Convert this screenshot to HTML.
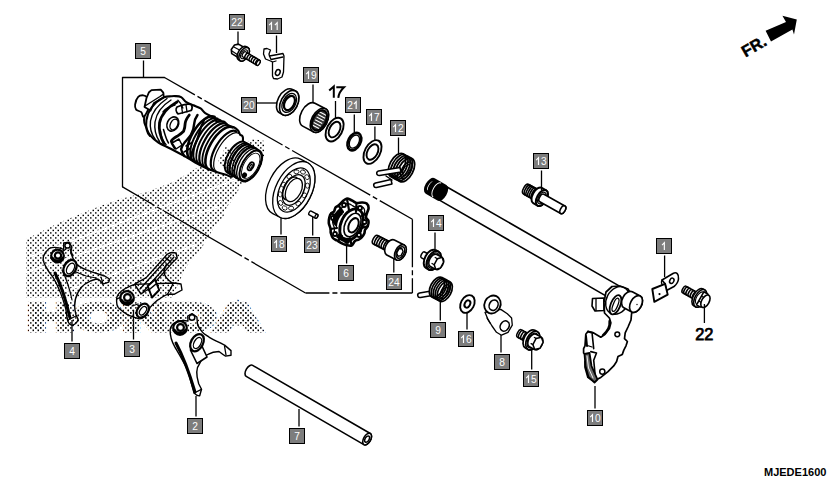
<!DOCTYPE html>
<html><head><meta charset="utf-8"><style>
html,body{margin:0;padding:0;background:#fff;width:834px;height:488px;overflow:hidden}
svg{display:block}
.lb{font-family:"Liberation Sans",sans-serif;font-size:10.2px;fill:#fff;text-anchor:middle}
.ld{stroke:#000;stroke-width:1.3}
.k{fill:none;stroke:#000;stroke-width:1.3;stroke-linejoin:round;stroke-linecap:round}
.kw{fill:#fff;stroke:#000;stroke-width:1.3;stroke-linejoin:round;stroke-linecap:round}
.kt{fill:none;stroke:#000;stroke-width:0.8;stroke-linejoin:round;stroke-linecap:round}
.kb{fill:#fff;stroke:#000;stroke-width:2;stroke-linejoin:round;stroke-linecap:round}
</style></head><body>
<svg width="834" height="488" viewBox="0 0 834 488">
<defs>
<pattern id="dots" width="5" height="5" patternUnits="userSpaceOnUse">
<rect x="0.05" y="2.2" width="1.45" height="1.45" fill="#000"/>
<rect x="2.55" y="-0.3" width="1.45" height="1.45" fill="#000"/>
<rect x="2.55" y="4.7" width="1.45" height="1.45" fill="#000"/>
</pattern>
<pattern id="dotsS" width="5" height="5" patternUnits="userSpaceOnUse">
<rect x="0" y="0" width="1" height="1" fill="#000"/>
<rect x="2.5" y="2.5" width="1" height="1" fill="#000"/>
</pattern>
</defs>
<g id="wm">
<path fill="url(#dots)" d="M26,239.2 L60.6,222 L100,206 L119.6,199.2 L147,192 L174,181.4 L195.5,168.8 L212,158 L237,148 L252,139 L265,141 L264,158 L252,180 L241.6,184 L235.5,195.8 L226.9,206.9 L223.2,216.7 L214.6,226.6 L201,249 L186,267 L172,297.5 L26,297.5 Z"/>
<line x1="30" y1="256.7" x2="245" y2="176" stroke="#fff" stroke-width="1.6"/>
<line x1="26" y1="272.5" x2="218" y2="207" stroke="#fff" stroke-width="1.6"/>
<line x1="60" y1="293" x2="195" y2="245" stroke="#fff" stroke-width="1.6"/>
<text x="28" y="330.3" textLength="233" lengthAdjust="spacingAndGlyphs" style="font-family:'Liberation Sans',sans-serif;font-weight:bold;font-size:36px;stroke:url(#dots);stroke-width:5;stroke-linejoin:miter" fill="url(#dots)">HONDA</text>
</g>
<path class="k" d="M122.5,186.9 L122.5,77.5 L164.5,77.5"/>
<path class="k" d="M164.5,77.5 L412.4,219.3" stroke-dasharray="90 3 5 3" stroke-dashoffset="55" style="stroke-linecap:butt"/>
<path class="k" d="M122.5,186.9 L305.5,293" stroke-dasharray="90 3 5 3" stroke-dashoffset="53" style="stroke-linecap:butt"/>
<path class="k" d="M412.4,219.3 L412.4,293" stroke-dasharray="90 3 5 3" stroke-dashoffset="42" style="stroke-linecap:butt"/>
<path class="k" d="M412.4,293 L305.5,293" stroke-dasharray="90 3 5 3" stroke-dashoffset="18" style="stroke-linecap:butt"/>
<path class="kw" style="stroke-width:2.1" d="M163.8,97.3 C167.0,96.5 169.1,96.5 171.0,96.3 C172.9,96.1 173.3,96.0 175.0,96.1 C176.7,96.2 179.2,96.1 181.1,97.1 C183.0,98.1 184.2,100.8 186.3,102.2 C188.4,103.6 191.0,104.3 193.4,105.3 C195.8,106.3 198.6,107.1 200.6,108.4 C202.6,109.7 202.9,111.5 205.2,113.1 C207.5,114.7 212.6,116.8 214.5,118.2 C216.4,119.6 215.0,120.8 216.5,121.3 C218.0,121.8 221.8,120.8 223.7,121.5 C225.6,122.2 226.1,124.5 227.8,125.5 C229.5,126.5 232.2,126.4 233.9,127.2 C235.6,128.0 237.0,129.3 238.0,130.5 C239.0,131.7 239.3,133.3 240.1,134.6 C240.9,135.9 243.0,134.3 243.0,138.5 C243.0,142.7 241.6,153.8 240.0,160.0 C238.4,166.2 235.5,173.4 233.2,175.9 C230.9,178.4 228.9,175.5 226.0,174.8 C223.1,174.1 219.1,173.0 215.7,171.8 C212.3,170.6 208.9,169.2 205.5,167.7 C202.1,166.1 198.6,164.4 195.2,162.5 C191.8,160.6 189.1,158.7 185.0,156.4 C180.9,154.1 175.1,151.0 170.7,148.7 C166.3,146.4 161.8,144.7 158.4,142.5 C155.0,140.3 152.3,138.0 150.2,135.4 C148.1,132.8 147.0,129.6 146.0,127.0 C145.0,124.4 144.1,123.2 144.1,120.0 C144.1,116.8 144.7,111.2 146.0,108.0 C147.3,104.8 149.0,102.8 152.0,101.0 C155.0,99.2 160.6,98.1 163.8,97.3 Z"/><path class="kw" style="stroke-width:1.8" d="M135.1,104.5 C135.4,102.4 136.8,98.3 138.2,96.8 C139.6,95.3 141.8,95.2 143.3,95.3 C144.8,95.4 145.9,95.8 147.0,97.3 C148.1,98.8 150.0,101.5 150.0,104.0 C150.0,106.5 148.1,109.9 147.0,112.0 C145.9,114.1 144.2,116.8 143.3,116.8 C142.4,116.8 142.5,113.4 141.3,112.2 C140.1,111.0 137.1,110.9 136.1,109.6 C135.1,108.3 134.8,106.6 135.1,104.5 Z"/><path class="kw" style="stroke-width:1.8" d="M146.5,98 L149,92.2 L151.5,90.1 L160.7,89.6 L163.3,92.7 L163.8,97.3 L154,103 L150.5,110.6 L144.5,107 Z"/><path class="k" d="M145,106 L160,96.5 L163.5,94" style="stroke-width:1.4"/><path class="k" style="stroke-width:2.0" d="M163.8,97.3 C155,102 148,110 146.5,120 C145.5,128 147,133 150,136"/><path class="k" style="stroke-width:1.4" d="M167,98.5 C159,104 152,112 150.5,121 C149.5,129 152,135 155,139"/><path class="k" style="stroke-width:1.4" d="M171,100 C163,105 156.5,113 155,122 C154,130 156.5,137 159.5,141.5"/><path class="k" style="stroke-width:2.8" d="M177,102 C168,107 161,115 159.5,123 C158.5,131 161,138 164,143.5"/><ellipse class="kw" cx="172.8" cy="124" rx="5.6" ry="7.4" transform="rotate(25 172.8 124)" style="stroke-width:1.6"/><ellipse class="k" cx="174" cy="124.5" rx="3.6" ry="5.6" transform="rotate(25 174 124.5)" style="stroke-width:1.4"/><path class="k" style="stroke-width:1.5" d="M160.5,131 C161,137 163,142 166,144.5 M163.5,129.5 C165,135 166.5,140 168.5,143"/><path class="kw" style="stroke-width:1.8" d="M177,107 C183,104.5 188,103.5 191,104.5 C192.5,106 192.5,109 191,110.5 C186,112 181,113.5 178,113.8 C176,112 175.5,109 177,107 Z"/><path class="k" d="M181.5,106 L182.5,113 M186,104.8 L187,111.8" style="stroke-width:1.3"/><path class="k" style="stroke-width:2.8" d="M189.3,115 C187,118 185.5,120 185.2,123.1 C185,127 184.5,129 183.6,131.3 C181,134 179,135 177,136.3 C174,138 172,139.5 171.3,141.2 C172,144 174,146 175,148"/><path class="k" style="stroke-width:2.4" d="M197.5,115 C195.5,118 194.5,120 194.3,123.1 C194,127 193,131 191,134.6 C189,138 186.5,140 184.4,142.8 C182.5,145 181.5,147 181.1,149.4 C181.5,152 183,154 184.4,156"/><path class="k" style="stroke-width:2.2" d="M204.1,119.9 C202,124 200.5,128 199.2,133 C198,138 196.5,142 194.3,146.1 C192.5,150 191.5,153 191,157.6"/><path class="k" style="stroke-width:1.4" d="M177.9,100.2 C181,103 182,106 182.8,108"/><path class="kw" style="stroke-width:1.5" d="M172,143 L179,139 L182,145 L176,149 Z"/><path class="k" style="stroke-width:1.5" d="M186,146 L192,142.5 M184,152 L190,148.5 M163,112 C166,108 170,106 175,105"/><g transform="translate(251,165.9) rotate(30)"><path class="k" d="M-56.00,-24.20 A10.89,24.20 0 0 0 -56.00,24.20" style="stroke-width:2.6"/><path class="k" d="M-52.50,-24.20 A10.89,24.20 0 0 0 -52.50,24.20" style="stroke-width:2.0"/><path class="k" d="M-49.00,-24.20 A10.89,24.20 0 0 0 -49.00,24.20" style="stroke-width:2.2"/><path class="k" d="M-45.50,-24.20 A10.89,24.20 0 0 0 -45.50,24.20" style="stroke-width:1.8"/><path class="k" d="M-42.00,-24.20 A10.89,24.20 0 0 0 -42.00,24.20" style="stroke-width:2.2"/><path class="k" d="M-38.50,-24.20 A10.89,24.20 0 0 0 -38.50,24.20" style="stroke-width:1.8"/><path class="k" d="M-35.00,-24.20 A10.89,24.20 0 0 0 -35.00,24.20" style="stroke-width:2.6"/><path class="k" d="M-30.00,-22.50 A10.12,22.50 0 0 0 -30.00,22.50" style="stroke-width:2.2"/><path class="k" d="M-27.00,-22.00 A9.90,22.00 0 0 0 -27.00,22.00" style="stroke-width:1.2"/><path class="kw" d="M-17.00,-17.50 L-0.50,-17.50 A8.75,17.50 0 0 1 -0.50,17.50 L-17.00,17.50 A8.75,17.50 0 0 1 -17.00,-17.50 Z" style="stroke-width:2"/><path class="k" d="M-14.00,-17.50 A8.75,17.50 0 0 0 -14.00,17.50" style="stroke-width:1.6"/><path class="k" d="M-11.50,-17.50 A8.75,17.50 0 0 0 -11.50,17.50" style="stroke-width:2.4"/><path class="k" d="M-8.50,-17.50 A8.75,17.50 0 0 0 -8.50,17.50" style="stroke-width:1.6"/><path class="k" d="M-6.00,-17.50 A8.75,17.50 0 0 0 -6.00,17.50" style="stroke-width:2.2"/><path class="k" d="M-3.20,-17.50 A8.75,17.50 0 0 0 -3.20,17.50" style="stroke-width:1.4"/><ellipse class="kw" cx="-0.50" cy="0.00" rx="8.40" ry="16.80" style="stroke-width:2"/><ellipse class="k" cx="-0.30" cy="0.00" rx="7.00" ry="14.00" style="stroke-width:0.9"/><ellipse class="kw" cx="0" cy="0.5" rx="2.4" ry="4.4" style="stroke-width:1.8"/><ellipse class="k" cx="0.2" cy="0.5" rx="1" ry="2.2" style="stroke-width:1.2"/><ellipse class="kb" cx="-1" cy="11.5" rx="1.5" ry="2" style="fill:#000"/></g><path fill="url(#dots)" d="M218,162 C222,166 228,170 234,173 L236,163 C234,156 230,150 226,146 Z"/>
<g transform="translate(293.8,190) rotate(27)"><path class="kw" d="M-8.00,-30.60 L0.00,-30.60 A17.90,30.60 0 0 1 0.00,30.60 L-8.00,30.60 A17.90,30.60 0 0 1 -8.00,-30.60 Z" /><ellipse class="kw" cx="0.00" cy="0" rx="17.90" ry="30.60" /><ellipse class="k" cx="0.00" cy="0.00" rx="13.92" ry="23.80" /><ellipse class="k" cx="0.00" cy="0.00" rx="9.65" ry="16.50" /><ellipse class="kw" cx="0.00" cy="0.00" rx="7.31" ry="12.50" /><path class="k" d="M-3,-12.5 A7.3,12.5 0 0 0 -3,12.5"/><ellipse class="kt" cx="11.82" cy="0.00" rx="2" ry="2.6" transform="rotate(0.0 11.82 0.00)"/><ellipse class="kt" cx="10.23" cy="10.10" rx="2" ry="2.6" transform="rotate(30.0 10.23 10.10)"/><ellipse class="kt" cx="5.91" cy="17.49" rx="2" ry="2.6" transform="rotate(60.0 5.91 17.49)"/><ellipse class="kt" cx="0.00" cy="20.20" rx="2" ry="2.6" transform="rotate(90.0 0.00 20.20)"/><ellipse class="kt" cx="-5.91" cy="17.49" rx="2" ry="2.6" transform="rotate(120.0 -5.91 17.49)"/><ellipse class="kt" cx="-10.23" cy="10.10" rx="2" ry="2.6" transform="rotate(150.0 -10.23 10.10)"/><ellipse class="kt" cx="-11.82" cy="0.00" rx="2" ry="2.6" transform="rotate(180.0 -11.82 0.00)"/><ellipse class="kt" cx="-10.23" cy="-10.10" rx="2" ry="2.6" transform="rotate(210.0 -10.23 -10.10)"/><ellipse class="kt" cx="-5.91" cy="-17.49" rx="2" ry="2.6" transform="rotate(240.0 -5.91 -17.49)"/><ellipse class="kt" cx="-0.00" cy="-20.20" rx="2" ry="2.6" transform="rotate(270.0 -0.00 -20.20)"/><ellipse class="kt" cx="5.91" cy="-17.49" rx="2" ry="2.6" transform="rotate(300.0 5.91 -17.49)"/><ellipse class="kt" cx="10.23" cy="-10.10" rx="2" ry="2.6" transform="rotate(330.0 10.23 -10.10)"/></g>
<g transform="translate(289.2,102.9) rotate(28)"><path class="kw" d="M-3.50,-13.40 L0.00,-13.40 A8.31,13.40 0 0 1 0.00,13.40 L-3.50,13.40 A8.31,13.40 0 0 1 -3.50,-13.40 Z" style="stroke-width:1.6"/><ellipse class="kw" cx="0.00" cy="0" rx="8.31" ry="13.40" style="stroke-width:1.6"/><ellipse class="k" cx="0.00" cy="0.00" rx="6.32" ry="10.20" style="stroke-width:1.3"/><ellipse class="kw" cx="0.30" cy="0.00" rx="4.71" ry="7.60" style="stroke-width:2.2"/><path class="k" d="M-1.2,-7 A4,7 0 0 0 -1.2,7" style="stroke-width:1.2"/></g>
<g transform="translate(319.4,120.3) rotate(28)"><path class="kw" d="M-12.00,-13.00 L0.00,-13.00 A7.80,13.00 0 0 1 0.00,13.00 L-12.00,13.00 A7.80,13.00 0 0 1 -12.00,-13.00 Z" style="stroke-width:1.6"/><ellipse class="kw" cx="0.00" cy="0" rx="7.80" ry="13.00" style="stroke-width:1.6"/><ellipse class="kw" cx="0.00" cy="0.00" rx="6.48" ry="10.80" style="fill:#333;stroke-width:1.6"/><line x1="-4" y1="-7.5" x2="4" y2="-7.5" stroke="#fff" stroke-width="1.1"/><line x1="-4" y1="-4.5" x2="4" y2="-4.5" stroke="#fff" stroke-width="1.1"/><line x1="-4" y1="-1.5" x2="4" y2="-1.5" stroke="#fff" stroke-width="1.1"/><line x1="-4" y1="1.5" x2="4" y2="1.5" stroke="#fff" stroke-width="1.1"/><line x1="-4" y1="4.5" x2="4" y2="4.5" stroke="#fff" stroke-width="1.1"/><line x1="-4" y1="7.5" x2="4" y2="7.5" stroke="#fff" stroke-width="1.1"/><ellipse class="k" cx="0.00" cy="0.00" rx="6.48" ry="10.80" style="stroke-width:1.8"/></g>
<g transform="translate(334.6,129.6) rotate(28)"><ellipse class="kw" cx="0.00" cy="0.00" rx="7.68" ry="12.80" style="stroke-width:1.9"/><ellipse class="kw" cx="0.00" cy="0.00" rx="5.04" ry="8.40" style="stroke-width:1.9"/></g>
<g transform="translate(354.4,141.6) rotate(28)"><ellipse class="k" cx="0.00" cy="0.00" rx="6.11" ry="9.40" style="stroke-width:2.6"/><ellipse class="k" cx="0.00" cy="0.00" rx="4.55" ry="7.00" style="stroke-width:1.4"/></g>
<g transform="translate(372.5,152) rotate(28)"><ellipse class="kw" cx="0.00" cy="0.00" rx="7.68" ry="12.80" style="stroke-width:1.9"/><ellipse class="kw" cx="0.00" cy="0.00" rx="5.04" ry="8.40" style="stroke-width:1.9"/></g>
<g transform="translate(405,169.5) rotate(28)"><ellipse class="kw" cx="-9.00" cy="0.00" rx="7.15" ry="13.00" style="stroke-width:1.8"/><ellipse class="k" cx="-6.50" cy="0.00" rx="7.15" ry="13.00" style="stroke-width:1.8"/><ellipse class="k" cx="-4.00" cy="0.00" rx="7.15" ry="13.00" style="stroke-width:1.8"/><ellipse class="k" cx="-1.50" cy="0.00" rx="7.15" ry="13.00" style="stroke-width:1.8"/><ellipse class="k" cx="1.00" cy="0.00" rx="7.15" ry="13.00" style="stroke-width:1.8"/><ellipse class="k" cx="1.50" cy="0.00" rx="4.50" ry="9.00" style="stroke-width:1.5"/><ellipse class="k" cx="1.50" cy="0.00" rx="3.00" ry="6.00" style="stroke-width:1.2"/></g><path class="kw" d="M378.5,171 L400,167.5 L401,172 L379.5,175.5 A2.3,2.3 0 0 1 378.5,171 Z" style="stroke-width:1.5"/><path class="kw" d="M375.5,183 L391,179.5 L392,184 L376.5,187.5 A2.3,2.3 0 0 1 375.5,183 Z" style="stroke-width:1.5"/><path class="k" d="M386,176 L392,180 M390,174 L396,178" style="stroke-width:1.4"/>
<g transform="translate(313.3,214.7) rotate(28)"><path class="kw" d="M-3.50,-2.10 L3.50,-2.10 A1.26,2.10 0 0 1 3.50,2.10 L-3.50,2.10 A1.26,2.10 0 0 1 -3.50,-2.10 Z" style="stroke-width:1.4"/><ellipse class="kw" cx="3.50" cy="0" rx="1.26" ry="2.10" style="stroke-width:1.4"/></g>
<path class="kw" style="stroke-width:2.6" d="M343.0,201.0 C344.4,199.8 345.5,198.6 347.0,198.5 C348.5,198.4 350.4,199.8 352.0,200.5 C353.6,201.2 354.8,202.7 356.5,203.0 C358.2,203.3 360.3,202.4 362.0,202.5 C363.7,202.6 365.6,202.6 366.7,203.5 C367.8,204.4 368.6,206.4 368.6,208.0 C368.7,209.6 367.4,211.4 367.0,213.0 C366.6,214.6 365.8,216.2 366.0,217.5 C366.2,218.8 368.2,219.6 368.5,221.0 C368.8,222.4 368.4,224.5 367.8,226.0 C367.2,227.5 365.6,228.8 365.0,230.0 C364.4,231.2 364.9,232.0 364.4,233.2 C363.9,234.4 362.9,235.9 362.0,237.0 C361.1,238.1 360.2,238.8 359.0,239.5 C357.8,240.2 356.2,240.0 355.0,241.0 C353.8,242.0 353.0,244.8 351.5,245.5 C350.0,246.2 347.6,245.3 346.0,245.0 C344.4,244.7 343.4,244.2 341.9,243.4 C340.4,242.7 338.5,241.4 337.0,240.5 C335.5,239.6 333.9,239.2 332.9,238.0 C331.9,236.8 331.2,234.5 330.8,233.0 C330.4,231.5 330.9,230.5 330.6,228.8 C330.3,227.1 329.0,224.9 328.8,223.0 C328.6,221.1 328.9,219.1 329.3,217.5 C329.7,215.9 330.2,214.5 331.0,213.5 C331.8,212.5 333.2,212.5 334.0,211.5 C334.8,210.5 334.8,208.5 335.5,207.5 C336.2,206.5 337.2,206.6 338.5,205.5 C339.8,204.4 341.6,202.2 343.0,201.0 Z"/><path class="k" style="stroke-width:1.3" d="M344.2,205.4 C345.3,204.5 346.2,203.5 347.4,203.4 C348.6,203.3 350.1,204.4 351.4,205.0 C352.7,205.6 353.7,206.7 355.0,207.0 C356.3,207.3 358.0,206.5 359.4,206.6 C360.8,206.7 362.3,206.7 363.2,207.4 C364.0,208.1 364.6,209.7 364.7,211.0 C364.7,212.3 363.7,213.7 363.4,215.0 C363.1,216.3 362.4,217.5 362.6,218.6 C362.8,219.7 364.4,220.3 364.6,221.4 C364.8,222.5 364.5,224.2 364.0,225.4 C363.6,226.6 362.3,227.6 361.8,228.6 C361.3,229.6 361.7,230.2 361.3,231.2 C360.9,232.1 360.1,233.4 359.4,234.2 C358.7,235.0 357.9,235.7 357.0,236.2 C356.1,236.7 354.8,236.6 353.8,237.4 C352.8,238.2 352.2,240.5 351.0,241.0 C349.8,241.5 347.9,240.9 346.6,240.6 C345.3,240.3 344.5,239.9 343.3,239.3 C342.1,238.7 340.6,237.7 339.4,237.0 C338.2,236.3 336.9,236.0 336.1,235.0 C335.3,234.0 334.7,232.2 334.4,231.0 C334.1,229.8 334.5,229.0 334.3,227.6 C334.0,226.3 333.0,224.5 332.8,223.0 C332.7,221.5 332.9,219.9 333.2,218.6 C333.5,217.3 334.0,216.2 334.6,215.4 C335.2,214.6 336.4,214.6 337.0,213.8 C337.6,213.0 337.6,211.4 338.2,210.6 C338.8,209.8 339.6,209.9 340.6,209.0 C341.6,208.1 343.1,206.3 344.2,205.4 Z"/><ellipse class="kw" cx="351.5" cy="224.5" rx="10.5" ry="16.5" transform="rotate(25 351.5 224.5)" style="stroke-width:2.8"/><ellipse class="k" cx="352.5" cy="225" rx="7.5" ry="12.5" transform="rotate(25 352.5 225)" style="stroke-width:1.6"/><ellipse class="kw" cx="353.5" cy="225.3" rx="4.6" ry="7.6" transform="rotate(25 353.5 225.3)" style="stroke-width:2"/><path class="k" d="M347,199 L349,210 M356.5,203 L356,212 M367,213 L362,216 M368,226 L362,228 M362,237 L357,234 M351.5,245 L350,238 M338,241 L342,236 M330.6,229 L337,228 M331,213.5 L338,216 M338.5,205.5 L343,212" style="stroke-width:2.2"/><circle class="kw" cx="344" cy="205" r="2" style="stroke-width:1.8"/><circle class="kw" cx="360" cy="208" r="2" style="stroke-width:1.8"/><circle class="kw" cx="364.5" cy="222" r="2" style="stroke-width:1.8"/><circle class="kw" cx="359" cy="235" r="2" style="stroke-width:1.8"/><circle class="kw" cx="347" cy="241" r="2" style="stroke-width:1.8"/><circle class="kw" cx="335" cy="234" r="2" style="stroke-width:1.8"/><circle class="kw" cx="333" cy="218" r="2" style="stroke-width:1.8"/><path d="M332,222 C333,214 337,210 341,208 L343,214 C339,217 337,222 337,228 Z" fill="#000"/><path d="M336,237 C340,241 345,243 349,243 L349,238 C345,238 341,236 339,233 Z" fill="#000"/>
<g transform="translate(399.5,252) rotate(27)"><path class="kw" d="M-27.00,-4.80 L-10.00,-4.80 A2.40,4.80 0 0 1 -10.00,4.80 L-27.00,4.80 A2.40,4.80 0 0 1 -27.00,-4.80 Z" style="stroke-width:1.5"/><path class="k" d="M-24.50,-4.80 A2.40,4.80 0 0 0 -24.50,4.80" style="stroke-width:1.6"/><path class="k" d="M-22.00,-4.80 A2.40,4.80 0 0 0 -22.00,4.80" style="stroke-width:1.6"/><path class="k" d="M-19.50,-4.80 A2.40,4.80 0 0 0 -19.50,4.80" style="stroke-width:1.6"/><path class="k" d="M-17.00,-4.80 A2.40,4.80 0 0 0 -17.00,4.80" style="stroke-width:1.6"/><path class="k" d="M-14.50,-4.80 A2.40,4.80 0 0 0 -14.50,4.80" style="stroke-width:1.6"/><path class="k" d="M-12.00,-4.80 A2.40,4.80 0 0 0 -12.00,4.80" style="stroke-width:1.6"/><path class="kw" d="M-10.00,-8.40 L1.00,-8.40 A5.04,8.40 0 0 1 1.00,8.40 L-10.00,8.40 A5.04,8.40 0 0 1 -10.00,-8.40 Z" style="stroke-width:1.6"/><ellipse class="kw" cx="1.00" cy="0" rx="5.04" ry="8.40" style="stroke-width:1.6"/><path class="k" d="M0.5,-4.2 L3,-2 L3,2.5 L0.5,4.5 L-2,2.2 L-2,-2.5 Z" style="stroke-width:1.4"/><ellipse class="k" cx="1.00" cy="0.00" rx="3.72" ry="6.20" style="stroke-width:1.5"/></g>
<g transform="translate(243.7,54) rotate(31)"><path class="kw" d="M-1.5,-5.8 L-9.5,-5.8 L-12.5,-3 L-13,2.5 L-10.5,5.8 L-1.5,5.8 Z" style="stroke-width:1.6"/><path class="k" d="M-11.5,-1 L-3,-1.5 M-12,3.5 L-3,3.8" style="stroke-width:1.1"/><path class="kw" d="M-1.50,-7.60 L0.50,-7.60 A4.18,7.60 0 0 1 0.50,7.60 L-1.50,7.60 A4.18,7.60 0 0 1 -1.50,-7.60 Z" style="stroke-width:1.6"/><ellipse class="kw" cx="0.50" cy="0" rx="4.18" ry="7.60" style="stroke-width:1.6"/><ellipse class="k" cx="0.50" cy="0.00" rx="2.75" ry="5.00" style="stroke-width:1.1"/><path class="kw" d="M0.50,-2.90 L17.00,-2.90 A1.45,2.90 0 0 1 17.00,2.90 L0.50,2.90 A1.45,2.90 0 0 1 0.50,-2.90 Z" style="stroke-width:1.4"/><ellipse class="kw" cx="17.00" cy="0" rx="1.45" ry="2.90" style="stroke-width:1.4"/><path class="k" d="M3.50,-2.90 A1.45,2.90 0 0 0 3.50,2.90" style="stroke-width:1.5"/><path class="k" d="M6.00,-2.90 A1.45,2.90 0 0 0 6.00,2.90" style="stroke-width:1.5"/><path class="k" d="M8.50,-2.90 A1.45,2.90 0 0 0 8.50,2.90" style="stroke-width:1.5"/><path class="k" d="M11.00,-2.90 A1.45,2.90 0 0 0 11.00,2.90" style="stroke-width:1.5"/><path class="k" d="M13.50,-2.90 A1.45,2.90 0 0 0 13.50,2.90" style="stroke-width:1.5"/><path class="k" d="M16.00,-2.90 A1.45,2.90 0 0 0 16.00,2.90" style="stroke-width:1.5"/></g>
<path class="kw" d="M264.0,49.0 L267.0,48.5 L270.5,50.0 L269.0,54.0 L269.5,56.0 L283.0,53.5 L284.0,56.0 L283.5,72.0 L282.0,77.0 L277.5,79.0 L273.5,78.5 L272.5,76.0 L272.5,62.0 L270.5,61.0 L265.5,59.0 L263.5,54.0 Z" /><path class="k" d="M269.5,56 L271,59.5 L283,57 M272.5,62 L276,61" /><ellipse class="kb" cx="277.8" cy="72.5" rx="2.2" ry="3" transform="rotate(25 277.8 72.5)" style="stroke-width:1.5"/>
<g transform="translate(500,226.2) rotate(29.9)"><path class="kw" d="M-67.00,-7.60 L140.00,-7.60 A3.80,7.60 0 0 1 140.00,7.60 L-67.00,7.60 A3.80,7.60 0 0 1 -67.00,-7.60 Z" style="stroke-width:1.6"/><path class="kb" d="M-80.50,-8.00 L-67.00,-8.00 A4.00,8.00 0 0 1 -67.00,8.00 L-80.50,8.00 A4.00,8.00 0 0 1 -80.50,-8.00 Z" style="fill:#000"/><path d="M-80.5,-5.2 A2.5,5.8 0 0 0 -80.5,5.2 A1.7,4.4 0 0 1 -80.5,-5.2 Z" fill="#fff"/><path d="M-72.5,-8 A4,8 0 0 0 -72.5,8" stroke="#fff" stroke-width="0.9" fill="none"/></g>
<g transform="translate(534,193.6) rotate(29.2)"><path class="kw" d="M-9.00,-5.50 L4.00,-5.50 A2.75,5.50 0 0 1 4.00,5.50 L-9.00,5.50 A2.75,5.50 0 0 1 -9.00,-5.50 Z" style="stroke-width:1.5"/><path class="k" d="M-7.00,-5.50 A2.75,5.50 0 0 0 -7.00,5.50" style="stroke-width:1.6"/><path class="k" d="M-5.00,-5.50 A2.75,5.50 0 0 0 -5.00,5.50" style="stroke-width:1.6"/><path class="k" d="M-3.00,-5.50 A2.75,5.50 0 0 0 -3.00,5.50" style="stroke-width:1.6"/><path class="k" d="M-1.00,-5.50 A2.75,5.50 0 0 0 -1.00,5.50" style="stroke-width:1.6"/><path class="k" d="M1.00,-5.50 A2.75,5.50 0 0 0 1.00,5.50" style="stroke-width:1.6"/><path class="kw" d="M4.00,-8.80 L9.00,-8.80 A4.84,8.80 0 0 1 9.00,8.80 L4.00,8.80 A4.84,8.80 0 0 1 4.00,-8.80 Z" style="stroke-width:2"/><ellipse class="kw" cx="9.00" cy="0" rx="4.84" ry="8.80" style="stroke-width:2"/><ellipse class="k" cx="9.00" cy="0.00" rx="3.47" ry="6.30" style="stroke-width:1.3"/><path class="kw" d="M9.00,-4.30 L33.00,-4.30 A2.37,4.30 0 0 1 33.00,4.30 L9.00,4.30 A2.37,4.30 0 0 1 9.00,-4.30 Z" style="stroke-width:1.6"/><ellipse class="kw" cx="33.00" cy="0" rx="2.37" ry="4.30" style="stroke-width:1.6"/></g>
<g transform="translate(434.5,261) rotate(28)"><path class="kb" d="M-13.00,-3.30 L-4.00,-3.30 A1.65,3.30 0 0 1 -4.00,3.30 L-13.00,3.30 A1.65,3.30 0 0 1 -13.00,-3.30 Z" style="stroke-width:1.5"/><path class="kw" d="M-4.00,-10.20 L-1.00,-10.20 A6.12,10.20 0 0 1 -1.00,10.20 L-4.00,10.20 A6.12,10.20 0 0 1 -4.00,-10.20 Z" style="stroke-width:2"/><ellipse class="kw" cx="-1.00" cy="0" rx="6.12" ry="10.20" style="stroke-width:2"/><ellipse class="k" cx="-1.00" cy="0.00" rx="4.98" ry="8.30" style="stroke-width:1.3"/><path class="kw" d="M-1.00,-6.80 L5.00,-6.80 A4.08,6.80 0 0 1 5.00,6.80 L-1.00,6.80 A4.08,6.80 0 0 1 -1.00,-6.80 Z" style="stroke-width:1.5"/><path class="kw" d="M5,-6.8 L8.5,-3.4 L8.5,3.4 L5,6.8 L1.5,3.4 L1.5,-3.4 Z" style="stroke-width:1.5"/><path class="k" d="M-1,-3.4 L1.5,-3.4 M-1,3.4 L1.5,3.4"/></g>
<path class="kw" d="M419.5,293 L437,290 L438,294.5 L420.5,297.5 A2.3,2.3 0 0 1 419.5,293 Z" style="stroke-width:1.5"/><g transform="translate(444,291) rotate(28)"><ellipse class="kw" cx="-8.00" cy="0.00" rx="6.38" ry="11.00" style="stroke-width:1.7"/><ellipse class="k" cx="-5.80" cy="0.00" rx="6.38" ry="11.00" style="stroke-width:1.7"/><ellipse class="k" cx="-3.60" cy="0.00" rx="6.38" ry="11.00" style="stroke-width:1.7"/><ellipse class="k" cx="-1.40" cy="0.00" rx="6.38" ry="11.00" style="stroke-width:1.7"/><ellipse class="k" cx="0.80" cy="0.00" rx="6.38" ry="11.00" style="stroke-width:1.7"/><ellipse class="k" cx="1.20" cy="0.00" rx="3.75" ry="7.50" style="stroke-width:1.4"/><ellipse class="k" cx="1.20" cy="0.00" rx="2.25" ry="4.50" style="stroke-width:1.2"/></g>
<g transform="translate(467.4,304) rotate(28)"><ellipse class="kw" cx="0.00" cy="0.00" rx="6.58" ry="9.40" style="stroke-width:1.9"/><ellipse class="kw" cx="0.00" cy="0.00" rx="2.66" ry="3.80" style="stroke-width:1.9"/></g>
<path class="kw" d="M485.0,312.3 L488.0,319.4 L492.0,326.0 L496.5,332.3 L501.5,335.2 L508.0,332.3 L512.3,325.2 L511.6,318.0 L507.3,313.7 L500.8,309.4 Z" /><ellipse class="kw" cx="492.5" cy="304.5" rx="8" ry="9.2" transform="rotate(25 492.5 304.5)" style="stroke-width:1.8"/><ellipse class="kw" cx="493.6" cy="305.2" rx="4.3" ry="5.4" transform="rotate(25 493.6 305.2)" style="stroke-width:1.6"/><ellipse class="kw" cx="504.7" cy="326" rx="4.3" ry="5.3" transform="rotate(30 504.7 326)" style="stroke-width:1.6"/><path class="k" d="M487,318 L490,323" />
<g transform="translate(534.5,341.5) rotate(28)"><path class="kw" d="M-17.00,-4.20 L-5.00,-4.20 A2.10,4.20 0 0 1 -5.00,4.20 L-17.00,4.20 A2.10,4.20 0 0 1 -17.00,-4.20 Z" style="stroke-width:1.5"/><path class="k" d="M-15.00,-4.20 A2.10,4.20 0 0 0 -15.00,4.20" style="stroke-width:1.6"/><path class="k" d="M-12.50,-4.20 A2.10,4.20 0 0 0 -12.50,4.20" style="stroke-width:1.6"/><path class="k" d="M-10.00,-4.20 A2.10,4.20 0 0 0 -10.00,4.20" style="stroke-width:1.6"/><path class="k" d="M-7.50,-4.20 A2.10,4.20 0 0 0 -7.50,4.20" style="stroke-width:1.6"/><path class="kw" d="M-5.00,-10.00 L-2.00,-10.00 A6.00,10.00 0 0 1 -2.00,10.00 L-5.00,10.00 A6.00,10.00 0 0 1 -5.00,-10.00 Z" style="stroke-width:1.7"/><ellipse class="kw" cx="-2.00" cy="0" rx="6.00" ry="10.00" style="stroke-width:1.7"/><ellipse class="k" cx="-2.00" cy="0.00" rx="4.80" ry="8.00" /><path class="kw" d="M-2.00,-7.00 L4.00,-7.00 A4.20,7.00 0 0 1 4.00,7.00 L-2.00,7.00 A4.20,7.00 0 0 1 -2.00,-7.00 Z" style="stroke-width:1.5"/><path class="kw" d="M4,-7 L8,-3.5 L8,3.5 L4,7 L0,3.5 L0,-3.5 Z" style="stroke-width:1.5"/><path class="k" d="M-2,-3.5 L0,-3.5 M-2,3.5 L0,3.5"/></g>
<path class="kw" d="M592.5,298.5 L603.8,298.0 L604.0,310.5 L595.0,311.0 L592.0,306.0 Z" style="stroke-width:1.6"/><path class="k" d="M596,299.5 L596,310.5" /><path class="kw" d="M606.0,292.0 L612.0,286.5 L620.0,286.0 L628.0,289.0 L632.0,296.0 L633.0,306.0 L631.5,314.3 L631.0,320.0 L628.0,327.0 L625.2,332.9 L624.5,338.7 L627.4,341.5 L626.0,345.8 L623.8,350.1 L622.3,354.4 L618.0,356.6 L616.6,361.6 L613.7,365.9 L608.0,371.6 L600.8,377.4 L595.1,380.3 L592.2,380.3 L587.9,377.4 L585.0,367.3 L585.0,361.6 L587.9,357.3 L583.6,353.0 L583.6,348.7 L585.0,345.8 L585.8,334.3 L587.9,331.5 L593.7,332.9 L600.8,337.2 L605.1,334.3 L609.4,328.6 L610.9,322.9 L609.4,318.0 L604.5,313.0 L604.0,302.0 Z" style="stroke-width:1.7"/><ellipse class="k" cx="617.5" cy="300.5" rx="11" ry="14.5" transform="rotate(28 617.5 300.5)" style="stroke-width:1.4"/><ellipse class="kw" cx="615.5" cy="304.8" rx="4.8" ry="10.2" transform="rotate(22 615.5 304.8)" style="stroke-width:1.8"/><ellipse class="k" cx="615.5" cy="304.8" rx="2.3" ry="7" transform="rotate(22 615.5 304.8)" style="stroke-width:1.3"/><g transform="translate(636,304) rotate(28)"><path class="kw" d="M-9.00,-9.00 L0.00,-9.00 A5.58,9.00 0 0 1 0.00,9.00 L-9.00,9.00 A5.58,9.00 0 0 1 -9.00,-9.00 Z" style="stroke-width:1.7"/><ellipse class="kw" cx="0.00" cy="0" rx="5.58" ry="9.00" style="stroke-width:1.7"/></g><circle cx="637" cy="304.5" r="0.7" fill="#000"/><circle class="kw" cx="617.3" cy="334.3" r="2.4" style="stroke-width:1.5"/><circle class="kw" cx="602.3" cy="371.6" r="2.6" style="stroke-width:1.5"/><path class="k" d="M592.2,334.3 L593.7,348.7 M590.8,351.6 L596.5,353 L593.7,360.2 L595.1,374.5" style="stroke-width:1.6"/><path class="k" d="M584.5,354 L589.5,353 L591.5,366 L597.5,379.5 L594.5,382.5 L588.5,377 L585.5,366 Z" style="stroke-width:1.8;fill:#666"/><path class="k" d="M587,356 L588.5,368 L593,378" style="stroke:#fff;stroke-width:0.9"/><path class="k" d="M586,336 L587,346 M588,331.5 L593,333" style="stroke-width:2"/><path class="k" d="M609.5,321 C610,326 608,331 603,335" style="stroke-width:2.2"/><path class="k" d="M585.8,345 L592,347" />
<path class="kw" d="M662,280 L673,273.5 C676.5,271.5 679,274 678.5,279 C678,283 676,285 674,286.5 L666.5,290.5 L665,283.8 Z" style="stroke-width:1.6"/><ellipse class="kb" cx="671.8" cy="280.8" rx="2" ry="2.8" transform="rotate(28 671.8 280.8)" style="stroke-width:1.5"/><path class="k" d="M662,280 C661,282 661.5,284 663,285.5" /><path class="kw" d="M652.3,289.0 L665.1,283.8 L667.7,294.6 L654.3,301.8 Z" style="stroke-width:1.9"/><circle cx="659.5" cy="294.1" r="1.1" fill="#000"/>
<g transform="translate(705,301) rotate(29)"><path class="kw" d="M-23.50,-3.80 L-7.00,-3.80 A1.90,3.80 0 0 1 -7.00,3.80 L-23.50,3.80 A1.90,3.80 0 0 1 -23.50,-3.80 Z" style="stroke-width:1.5"/><path class="k" d="M-21.50,-3.80 A1.90,3.80 0 0 0 -21.50,3.80" style="stroke-width:1.6"/><path class="k" d="M-19.00,-3.80 A1.90,3.80 0 0 0 -19.00,3.80" style="stroke-width:1.6"/><path class="k" d="M-16.50,-3.80 A1.90,3.80 0 0 0 -16.50,3.80" style="stroke-width:1.6"/><path class="k" d="M-14.00,-3.80 A1.90,3.80 0 0 0 -14.00,3.80" style="stroke-width:1.6"/><path class="k" d="M-11.50,-3.80 A1.90,3.80 0 0 0 -11.50,3.80" style="stroke-width:1.6"/><path class="k" d="M-9.00,-3.80 A1.90,3.80 0 0 0 -9.00,3.80" style="stroke-width:1.6"/><path class="kw" d="M-7.50,-9.60 L-5.50,-9.60 A5.28,9.60 0 0 1 -5.50,9.60 L-7.50,9.60 A5.28,9.60 0 0 1 -7.50,-9.60 Z" style="stroke-width:1.6"/><ellipse class="kw" cx="-5.50" cy="0" rx="5.28" ry="9.60" style="stroke-width:1.6"/><ellipse class="k" cx="-5.50" cy="0.00" rx="3.85" ry="7.00" style="stroke-width:1.1"/><path class="kw" d="M-5.5,-7.5 L-1,-7.5 L1.5,-5 L1.5,5 L-1,7.5 L-5.5,7.5 Z" style="stroke-width:1.6"/><path class="k" d="M-5.5,-2.5 L-1,-2.8 M-5.5,3 L-1,3.2" style="stroke-width:1.1"/><ellipse class="kw" cx="0.50" cy="0.00" rx="3.74" ry="6.80" style="stroke-width:1.6"/></g>
<path class="k" d="M49.4,248.3 C45,252 43,256 43.2,259.6 C44,266 49,272 53.5,278 C58,286 62,295 65.8,308.8 C66.5,314 67,318 67.8,321.1 C69,324 71,325.5 72.9,325.2 C76,324 78,321 78,319 L76,315 C74,308 74,300 78,292.4 C81,286 88,281 96.5,279 C99,279 101,281 102.7,284.2 L108.8,282.2 L109.5,279 L104.7,276 C98,274 92,272 86.3,269.8 C80,267 77,265 76,263.7 C73,259 71,254 70.9,251.4 L71.9,247 L69,242.2 L63.7,243 L63.7,249.3 C58,247 53,247 49.4,248.3 Z" style="stroke-width:1.4"/><path class="k" d="M55,273 C61,285 66,300 70,318" style="stroke-width:3"/><path class="k" d="M68,320 L76,316 M101,277 L103,284 M62,270 C66,278 70,290 72,300" style="stroke-width:1.2"/><circle class="kw" cx="57.5" cy="256" r="6.3" style="stroke-width:2.2"/><circle class="k" cx="58.0" cy="255.5" r="3.15" style="stroke-width:2.2"/><path class="k" d="M52.2,258 A6.3,6.3 0 0 0 62.8,258" style="stroke-width:3"/><circle class="kw" cx="67.5" cy="245.5" r="2.6" style="stroke-width:1.5"/><path class="k" d="M66,249 L62,252 M70,249 L73,256" /><ellipse class="kw" cx="70" cy="268" rx="6" ry="8.6" transform="rotate(28 70 268)" style="stroke-width:2.3"/><ellipse class="k" cx="70.5" cy="268.5" rx="3.4" ry="5.8" transform="rotate(28 70.5 268.5)" style="stroke-width:1.3"/><path class="k" d="M76,272 L86,276 L96,278" style="stroke-width:1.1"/>
<path class="k" d="M169,253.3 C167,254 166,255 165.7,256 L146,277.9 C142,280 138,282 134.6,284.4 L141,294 L150,288 L172,263.1 L177.2,258 L176,253 L172,252.5 Z" style="stroke-width:1.4"/><path class="k" d="M171,254.5 L140,289 M174,257 L143,292 M166,258 L171,262" style="stroke-width:1.3"/><path class="k" d="M134.6,284.4 C128,287 124,289 121.5,291 C118,294 116.5,297 116.6,299.2 C116.5,303 117,306 118.2,307.4 C122,311 126,314 129.7,315.6 C133,317 136,318.5 139.5,318.9 C142,319 144,317 146,315.6 C148,312 149,310 150.2,307.4 C154,303 156,301 159.2,299.2 C162,297 165,295 167.4,294.3 L174,294.3 L182,290 L181,284 L174,283 Z" style="stroke-width:1.4"/><path class="k" d="M172.3,283 C168,280 164,276 164.1,272 C164,268 165,266 166.6,264" style="stroke-width:1.3"/><path class="k" d="M167.4,294.3 C170,290 172,287 173,283" /><circle class="kw" cx="127" cy="298" r="6.8" style="stroke-width:2.2"/><circle class="k" cx="127.5" cy="297.5" r="3.40" style="stroke-width:2.2"/><path class="k" d="M121.2,300 A6.8,6.8 0 0 0 132.8,300" style="stroke-width:3"/><path class="kw" d="M147.7,286.0 L155.0,279.5 L159.2,290.0 L152.0,297.5 Z" style="stroke-width:2"/><path class="k" d="M150,289 L156,284" style="stroke-width:1.6"/><ellipse class="kw" cx="142.7" cy="310.6" rx="5.3" ry="7.6" transform="rotate(35 142.7 310.6)" style="stroke-width:2.2"/><ellipse class="k" cx="143" cy="310.8" rx="2.8" ry="4.8" transform="rotate(35 143 310.8)" style="stroke-width:1.3"/><path class="k" d="M132,306 L138,304 M116.6,299.2 L121,297" />
<path class="k" d="M176.6,322 C173,323 171,325 170.1,330 C170,336 172,342 174.8,346.9 C179,354 184,362 187.7,370.9 C190,378 192,386 194.1,393 C196,395 198,396 199.7,395.8 L201.5,389.3 L198.7,383.8 C196,375 196,368 199.7,363.5 C202,358 205,355.5 208,354.3 C212,352 216,351.5 219,351.5 C221,353 223,355 225.5,356.1 L231,355.2 L231,350.6 L224.6,345.1 C218,342 214,340 209.8,337.7 C206,335 204,334 202.4,332.1 C199,328 198,326 197.5,324 L196.9,317 L192,313.7 L187.7,316 L188,321.1 C184,320 180,320.5 176.6,322 Z" style="stroke-width:1.4"/><path class="k" d="M176,343 C183,356 189,372 195,392" style="stroke-width:3"/><circle class="kw" cx="180" cy="328" r="6.8" style="stroke-width:2.2"/><circle class="k" cx="180.5" cy="327.5" r="3.40" style="stroke-width:2.2"/><path class="k" d="M174.2,330 A6.8,6.8 0 0 0 185.8,330" style="stroke-width:3"/><circle class="kw" cx="192" cy="317.5" r="2.8" style="stroke-width:1.5"/><path class="kw" d="M190.4,350.0 L201.0,344.0 L207.0,357.0 L197.0,363.5 Z" style="stroke-width:1.6"/><ellipse class="kw" cx="197" cy="342.7" rx="6" ry="9.2" transform="rotate(28 197 342.7)" style="stroke-width:2.3"/><ellipse class="k" cx="197.5" cy="343" rx="3.4" ry="6" transform="rotate(28 197.5 343)" style="stroke-width:1.3"/><path class="k" d="M194.1,393 L201.5,389.3 M224.5,346 L226,355" />
<g transform="translate(367.1,439.1) rotate(30.1)"><path class="kw" d="M-136.00,-6.40 L0.00,-6.40 A3.52,6.40 0 0 1 0.00,6.40 L-136.00,6.40 A3.52,6.40 0 0 1 -136.00,-6.40 Z" style="stroke-width:1.6"/><ellipse class="kw" cx="0.00" cy="0" rx="3.52" ry="6.40" style="stroke-width:1.6"/><ellipse class="k" cx="0.00" cy="0.00" rx="2.04" ry="3.40" style="stroke-width:1.5"/></g>
<path d="M765.6,30.8 L771,41.6 L792.4,29.5 L794,34.4 L796.8,19.4 L782.4,15.8 L786,22 Z" fill="#000"/>
<text x="0" y="0" transform="translate(745.5,57.5) rotate(-30)" style="font-family:'Liberation Sans',sans-serif;font-weight:bold;font-size:16px;stroke:#000;stroke-width:0.5">FR.</text>
<text x="764" y="476" style="font-family:'Liberation Sans',sans-serif;font-weight:bold;font-size:11px">MJEDE1600</text>
<path d="M333.8,97.8 L333.8,86.4 L329.2,90.6 M336.3,87.2 L344,87.2 C340.5,90.5 338.6,94 338.3,97.8" stroke="#000" stroke-width="2" fill="none" stroke-linejoin="miter"/>
<text x="695.2" y="339.7" style="font-family:'Liberation Sans',sans-serif;font-size:16.4px;stroke:#000;stroke-width:0.75">22</text>
<line x1="238" y1="31.5" x2="238" y2="45" class="ld"/>
<line x1="276.5" y1="35.5" x2="276.5" y2="53" class="ld"/>
<line x1="143.5" y1="60.5" x2="143.5" y2="78" class="ld"/>
<line x1="313" y1="84.5" x2="313" y2="103" class="ld"/>
<line x1="257" y1="103" x2="277" y2="103" class="ld"/>
<line x1="335.5" y1="101" x2="335.5" y2="118" class="ld"/>
<line x1="354.3" y1="114.5" x2="354.3" y2="132" class="ld"/>
<line x1="374.9" y1="126.5" x2="374.9" y2="140" class="ld"/>
<line x1="398.5" y1="137.5" x2="398.5" y2="155" class="ld"/>
<line x1="541.5" y1="170.5" x2="541.5" y2="190" class="ld"/>
<line x1="435" y1="232.5" x2="435" y2="249" class="ld"/>
<line x1="281" y1="234.5" x2="281" y2="218" class="ld"/>
<line x1="312.7" y1="235.5" x2="312.7" y2="217" class="ld"/>
<line x1="346.6" y1="263.5" x2="346.6" y2="246" class="ld"/>
<line x1="393.8" y1="272.5" x2="393.8" y2="259" class="ld"/>
<line x1="664.6" y1="255.5" x2="664.6" y2="277" class="ld"/>
<line x1="704.4" y1="304" x2="704.4" y2="323" class="ld"/>
<line x1="440.3" y1="302" x2="440.3" y2="320.5" class="ld"/>
<line x1="467" y1="312" x2="467" y2="329.5" class="ld"/>
<line x1="501" y1="335" x2="501" y2="352.5" class="ld"/>
<line x1="531.7" y1="349" x2="531.7" y2="369.5" class="ld"/>
<line x1="595" y1="386" x2="595" y2="408.5" class="ld"/>
<line x1="72" y1="320" x2="72" y2="341.5" class="ld"/>
<line x1="133.5" y1="310" x2="133.5" y2="339.5" class="ld"/>
<line x1="196" y1="396" x2="196" y2="416.5" class="ld"/>
<line x1="299" y1="409" x2="299" y2="426.5" class="ld"/>
<rect x="229.5" y="14.5" width="15" height="15" fill="#7d7d7d" stroke="#000" stroke-width="1"/>
<text x="234.16" y="26" class="lb">2</text>
<text x="239.84" y="26" class="lb">2</text>
<rect x="266.5" y="18.5" width="15" height="15" fill="#7d7d7d" stroke="#000" stroke-width="1"/>
<path d="M271.50,30.00 L271.50,22.70 L269.20,25.10" stroke="#fff" stroke-width="1.15" fill="none"/>
<path d="M277.18,30.00 L277.18,22.70 L274.88,25.10" stroke="#fff" stroke-width="1.15" fill="none"/>
<rect x="135.5" y="43.5" width="15" height="15" fill="#7d7d7d" stroke="#000" stroke-width="1"/>
<text x="143.00" y="55" class="lb">5</text>
<rect x="303.5" y="67.5" width="15" height="15" fill="#7d7d7d" stroke="#000" stroke-width="1"/>
<path d="M308.50,79.00 L308.50,71.70 L306.20,74.10" stroke="#fff" stroke-width="1.15" fill="none"/>
<text x="313.84" y="79" class="lb">9</text>
<rect x="241.5" y="97.5" width="15" height="15" fill="#7d7d7d" stroke="#000" stroke-width="1"/>
<text x="246.16" y="109" class="lb">2</text>
<text x="251.84" y="109" class="lb">0</text>
<rect x="345.5" y="97.5" width="15" height="15" fill="#7d7d7d" stroke="#000" stroke-width="1"/>
<text x="350.16" y="109" class="lb">2</text>
<path d="M356.18,109.00 L356.18,101.70 L353.88,104.10" stroke="#fff" stroke-width="1.15" fill="none"/>
<rect x="366.5" y="109.5" width="15" height="15" fill="#7d7d7d" stroke="#000" stroke-width="1"/>
<path d="M371.50,121.00 L371.50,113.70 L369.20,116.10" stroke="#fff" stroke-width="1.15" fill="none"/>
<text x="376.84" y="121" class="lb">7</text>
<rect x="390.5" y="120.5" width="15" height="15" fill="#7d7d7d" stroke="#000" stroke-width="1"/>
<path d="M395.50,132.00 L395.50,124.70 L393.20,127.10" stroke="#fff" stroke-width="1.15" fill="none"/>
<text x="400.84" y="132" class="lb">2</text>
<rect x="533.5" y="153.5" width="15" height="15" fill="#7d7d7d" stroke="#000" stroke-width="1"/>
<path d="M538.50,165.00 L538.50,157.70 L536.20,160.10" stroke="#fff" stroke-width="1.15" fill="none"/>
<text x="543.84" y="165" class="lb">3</text>
<rect x="428.5" y="215.5" width="15" height="15" fill="#7d7d7d" stroke="#000" stroke-width="1"/>
<path d="M433.50,227.00 L433.50,219.70 L431.20,222.10" stroke="#fff" stroke-width="1.15" fill="none"/>
<text x="438.84" y="227" class="lb">4</text>
<rect x="271.5" y="236.5" width="15" height="15" fill="#7d7d7d" stroke="#000" stroke-width="1"/>
<path d="M276.50,248.00 L276.50,240.70 L274.20,243.10" stroke="#fff" stroke-width="1.15" fill="none"/>
<text x="281.84" y="248" class="lb">8</text>
<rect x="304.5" y="237.5" width="15" height="15" fill="#7d7d7d" stroke="#000" stroke-width="1"/>
<text x="309.16" y="249" class="lb">2</text>
<text x="314.84" y="249" class="lb">3</text>
<rect x="338.5" y="265.5" width="15" height="15" fill="#7d7d7d" stroke="#000" stroke-width="1"/>
<text x="346.00" y="277" class="lb">6</text>
<rect x="386.5" y="274.5" width="15" height="15" fill="#7d7d7d" stroke="#000" stroke-width="1"/>
<text x="391.16" y="286" class="lb">2</text>
<text x="396.84" y="286" class="lb">4</text>
<rect x="656.5" y="238.5" width="15" height="15" fill="#7d7d7d" stroke="#000" stroke-width="1"/>
<path d="M664.34,250.00 L664.34,242.70 L662.04,245.10" stroke="#fff" stroke-width="1.15" fill="none"/>
<rect x="430.5" y="322.5" width="15" height="15" fill="#7d7d7d" stroke="#000" stroke-width="1"/>
<text x="438.00" y="334" class="lb">9</text>
<rect x="458.5" y="331.5" width="15" height="15" fill="#7d7d7d" stroke="#000" stroke-width="1"/>
<path d="M463.50,343.00 L463.50,335.70 L461.20,338.10" stroke="#fff" stroke-width="1.15" fill="none"/>
<text x="468.84" y="343" class="lb">6</text>
<rect x="494.5" y="354.5" width="15" height="15" fill="#7d7d7d" stroke="#000" stroke-width="1"/>
<text x="502.00" y="366" class="lb">8</text>
<rect x="523.5" y="371.5" width="15" height="15" fill="#7d7d7d" stroke="#000" stroke-width="1"/>
<path d="M528.50,383.00 L528.50,375.70 L526.20,378.10" stroke="#fff" stroke-width="1.15" fill="none"/>
<text x="533.84" y="383" class="lb">5</text>
<rect x="587.5" y="410.5" width="15" height="15" fill="#7d7d7d" stroke="#000" stroke-width="1"/>
<path d="M592.50,422.00 L592.50,414.70 L590.20,417.10" stroke="#fff" stroke-width="1.15" fill="none"/>
<text x="597.84" y="422" class="lb">0</text>
<rect x="64.5" y="343.5" width="15" height="15" fill="#7d7d7d" stroke="#000" stroke-width="1"/>
<text x="72.00" y="355" class="lb">4</text>
<rect x="124.5" y="341.5" width="15" height="15" fill="#7d7d7d" stroke="#000" stroke-width="1"/>
<text x="132.00" y="353" class="lb">3</text>
<rect x="187.5" y="418.5" width="15" height="15" fill="#7d7d7d" stroke="#000" stroke-width="1"/>
<text x="195.00" y="430" class="lb">2</text>
<rect x="289.5" y="428.5" width="15" height="15" fill="#7d7d7d" stroke="#000" stroke-width="1"/>
<text x="297.00" y="440" class="lb">7</text>
</svg>
</body></html>
